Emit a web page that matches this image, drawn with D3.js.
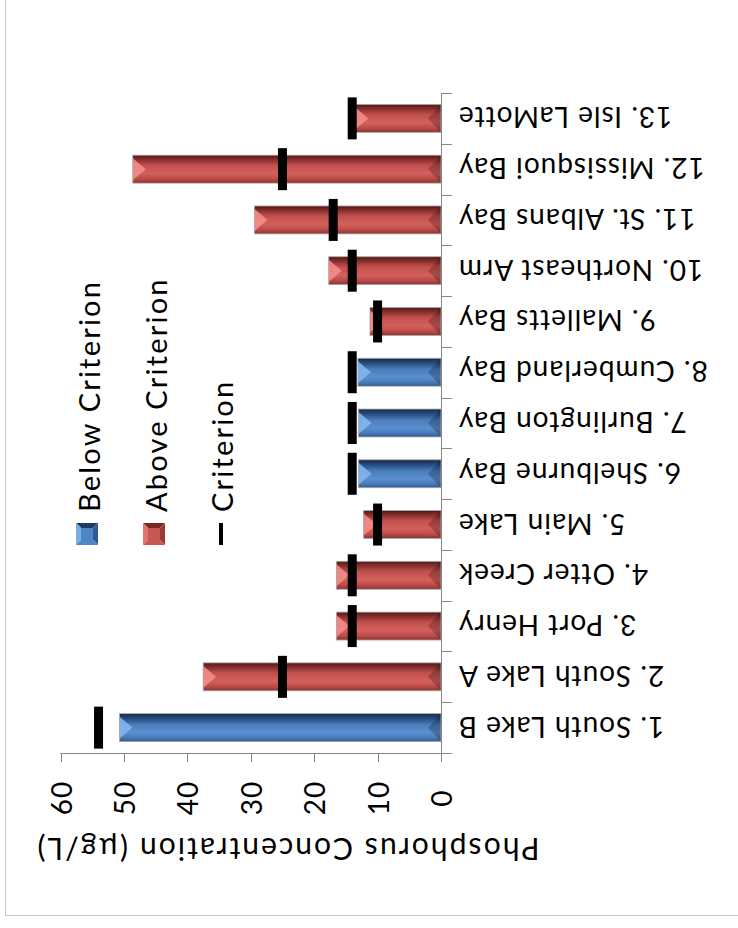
<!DOCTYPE html>
<html>
<head>
<meta charset="utf-8">
<script src="https://cdn.jsdelivr.net/npm/d3@7"></script>
<style>
  body { margin: 0; background: #fff; }
  svg { display: block; font-family: Lato, "Open Sans", sans-serif; }
</style>
</head>
<body>
<svg id="chart" width="738" height="928"></svg>
<script>
// lake segments, phosphorus (ug/L) and the criterion for each one
const categories = ['1. South Lake B', '2. South Lake A', '3. Port Henry', '4. Otter Creek',
  '5. Main Lake', '6. Shelburne Bay', '7. Burlington Bay', '8. Cumberland Bay',
  '9. Malletts Bay', '10. Northeast Arm', '11. St. Albans Bay', '12. Missisquoi Bay',
  '13. Isle LaMotte'];
const phosphorus = [50.7, 37.5, 16.5, 16.5, 12.2, 13.0, 13.0, 13.1, 11.2, 17.7, 29.4, 48.6, 13.5];
const criterion = [54, 25, 14, 14, 10, 14, 14, 14, 10, 14, 17, 25, 14];
// series each bar belongs to (as coloured in the chart)
const status = ['below', 'above', 'above', 'above', 'above', 'below', 'below', 'below',
  'above', 'above', 'above', 'above', 'above'];
const valueTicks = [0, 10, 20, 30, 40, 50, 60];
const legendLabels = ['Below Criterion', 'Above Criterion', 'Criterion'];

const data = categories.map((c, i) => ({
  name: c, value: phosphorus[i], crit: criterion[i], status: status[i]
}));

// the whole picture is upside down (rotated 180deg), so we draw it that way
const svg = d3.select('#chart');

const x = d3.scaleLinear().domain([0, 60]).range([441, 60.5]);
const y = d3.scaleBand().domain(categories).range([753, 93])
  .paddingInner(0.45).paddingOuter(0.225);

// outer frame
svg.append('rect')
  .attr('x', 5.5).attr('y', -5).attr('width', 760).attr('height', 920.5)
  .attr('fill', 'none').attr('stroke', '#c6c6c6');

const defs = svg.append('defs');
function grad(id, stops) {
  const g = defs.append('linearGradient').attr('id', id)
    .attr('x1', 0).attr('y1', 0).attr('x2', 0).attr('y2', 1);
  stops.forEach(s => g.append('stop').attr('offset', s[0]).attr('stop-color', s[1]));
}
grad('above', [[0, '#561716'], [0.12, '#7a2927'], [0.36, '#c0504d'], [0.65, '#d5605d'], [0.85, '#bb4b48'], [1, '#8a3230']]);
grad('below', [[0, '#132b4b'], [0.15, '#254676'], [0.4, '#4a7ebb'], [0.68, '#5a8fd1'], [0.88, '#4678b5'], [1, '#2f5587']]);
const hiColor = { above: '#f4908c', below: '#86b8f2' };

const g = svg.append('g');

// bars with bevelled ends
const bars = g.selectAll('.bar').data(data).enter().append('g').attr('class', 'bar');
bars.each(function(d) {
  const sel = d3.select(this);
  const col = d.status;
  const x0 = x(d.value), x1 = x(0);
  const y0 = y(d.name), h = y.bandwidth(), y1 = y0 + h, ym = y0 + h / 2;
  const b = Math.min(13, (x1 - x0) / 2);
  sel.append('rect')
    .attr('x', x0).attr('y', y0).attr('width', x1 - x0).attr('height', h)
    .attr('fill', `url(#${col})`);
  sel.append('path')
    .attr('d', `M${x0},${y0 + 3}L${x0 + b},${ym}L${x0},${y1 - 3}Z`)
    .attr('fill', hiColor[col]).attr('opacity', 0.85);
  sel.append('path')
    .attr('d', `M${x1},${y0}L${x1 - b},${ym}L${x1},${y1}Z`)
    .attr('fill', '#000').attr('opacity', 0.22);
  sel.append('rect')
    .attr('x', x0).attr('y', y0).attr('width', x1 - x0).attr('height', h)
    .attr('fill', 'none').attr('stroke', '#a9a9a9').attr('stroke-width', 0.8);
});

// criterion markers
g.selectAll('.crit').data(data).enter().append('rect')
  .attr('class', 'crit')
  .attr('x', d => x(d.crit) - 4.5)
  .attr('y', d => y(d.name) + y.bandwidth() / 2 - 21)
  .attr('width', 9).attr('height', 42)
  .attr('fill', '#000');

// category axis (ticks between categories)
const axisColor = '#868686';
g.append('line')
  .attr('x1', x(0) + 0.5).attr('x2', x(0) + 0.5).attr('y1', 93).attr('y2', 762)
  .attr('stroke', axisColor);
const bounds = d3.range(categories.length + 1).map(i => 93 + i * y.step());
g.selectAll('.ctick').data(bounds).enter().append('line')
  .attr('x1', x(0)).attr('x2', x(0) + 11)
  .attr('y1', d => Math.round(d) + 0.5).attr('y2', d => Math.round(d) + 0.5)
  .attr('stroke', axisColor);

g.selectAll('.clabel').data(data).enter().append('text')
  .attr('transform', d => `translate(458,${y(d.name) + y.bandwidth() / 2}) rotate(180)`)
  .attr('text-anchor', 'end')
  .attr('dominant-baseline', 'central')
  .attr('font-size', 28)
  .attr('letter-spacing', 1)
  .attr('fill', '#000')
  .text(d => d.name);

// value axis
g.append('line')
  .attr('x1', x(60)).attr('x2', x(0)).attr('y1', 753.5).attr('y2', 753.5)
  .attr('stroke', axisColor);
g.selectAll('.vtick').data(valueTicks).enter().append('line')
  .attr('x1', d => Math.round(x(d)) + 0.5).attr('x2', d => Math.round(x(d)) + 0.5)
  .attr('y1', 753).attr('y2', 762)
  .attr('stroke', axisColor);
g.selectAll('.vlabel').data(valueTicks).enter().append('text')
  .attr('transform', d => `translate(${x(d)},798) rotate(-90)`)
  .attr('text-anchor', 'middle')
  .attr('dominant-baseline', 'central')
  .attr('font-size', 28)
  .attr('letter-spacing', 1)
  .text(d => d);

g.append('text')
  .attr('transform', 'translate(287.5,850) rotate(180)')
  .attr('text-anchor', 'middle')
  .attr('dominant-baseline', 'central')
  .attr('font-size', 30)
  .attr('letter-spacing', 2.1)
  .text('Phosphorus Concentration (\u00b5g/L)');

// legend
const legendX = [88, 155, 221];
function bevelSquare(cx, col) {
  const x0 = cx - 11, y0 = 523, s = 22, m = s / 2;
  const faces = {
    above: ['#7a2826', '#e5726e', '#9b3a37', '#c85854'],
    below: ['#1d3c66', '#7aaee8', '#2f5a92', '#4f86c6']
  }[col];
  const c = [x0 + m, y0 + m];
  const pts = [[x0, y0], [x0 + s, y0], [x0 + s, y0 + s], [x0, y0 + s]];
  // top, left, right, bottom faces
  const tri = [[0, 1], [3, 0], [1, 2], [2, 3]];
  tri.forEach((t, i) => {
    svg.append('path')
      .attr('d', `M${pts[t[0]]}L${pts[t[1]]}L${c}Z`)
      .attr('fill', faces[i]);
  });
  svg.append('rect').attr('x', x0 + 5).attr('y', y0 + 5).attr('width', s - 10).attr('height', s - 10)
    .attr('fill', faces[3]);
}
bevelSquare(legendX[0] - 1, 'below');
bevelSquare(legendX[1] - 1, 'above');
svg.append('rect').attr('x', legendX[2] - 2).attr('y', 523).attr('width', 4).attr('height', 22)
  .attr('fill', '#000');

svg.selectAll('.ltext').data(legendLabels).enter().append('text')
  .attr('transform', (d, i) => `translate(${legendX[i]},512) rotate(-90)`)
  .attr('text-anchor', 'start')
  .attr('dominant-baseline', 'central')
  .attr('font-size', 29)
  .attr('letter-spacing', 2.2)
  .text(d => d);
</script>
</body>
</html>
